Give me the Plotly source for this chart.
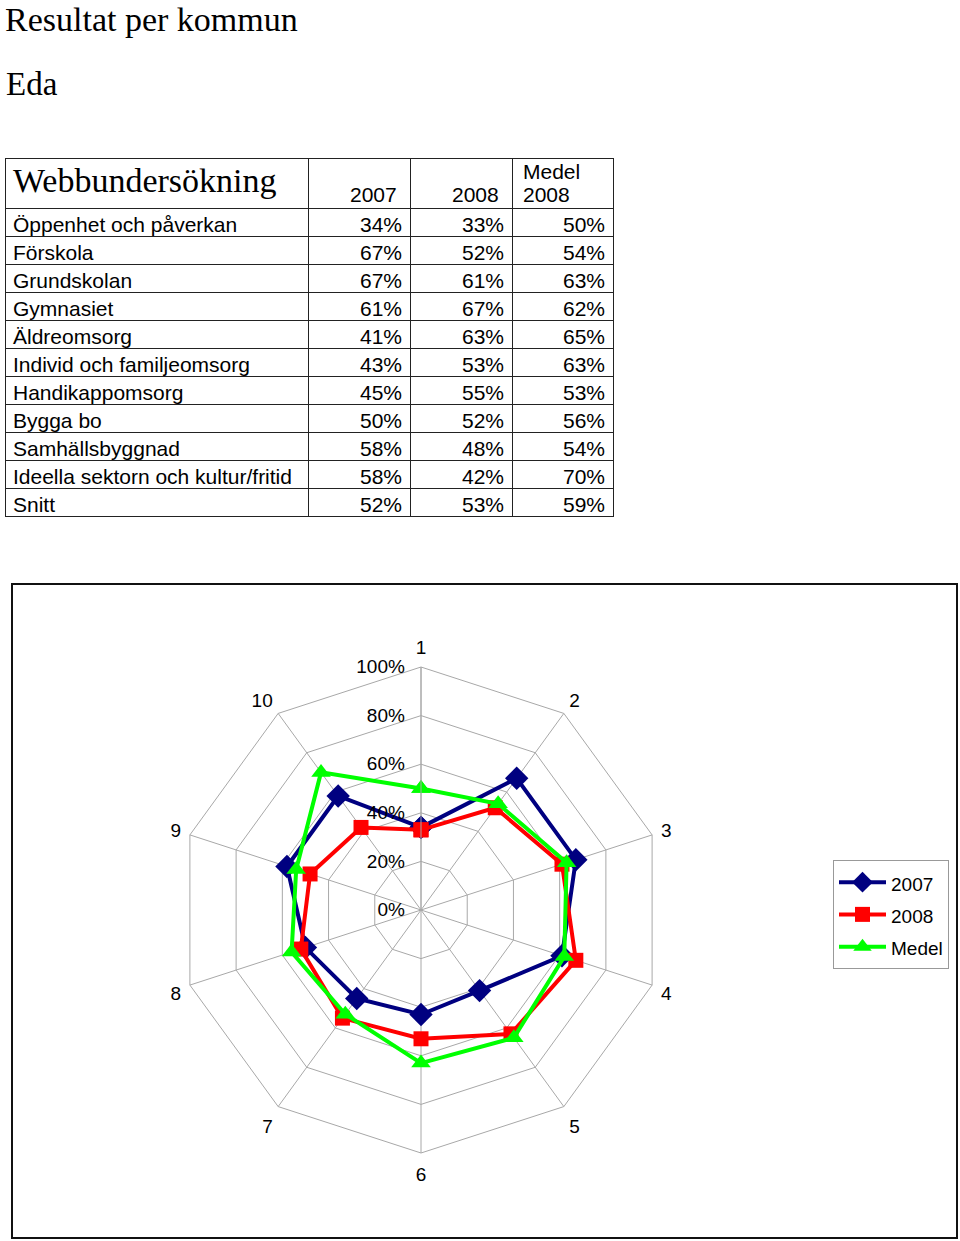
import plotly.graph_objects as go

# table data
areas = ['Öppenhet och påverkan', 'Förskola', 'Grundskolan', 'Gymnasiet',
         'Äldreomsorg', 'Individ och familjeomsorg', 'Handikappomsorg',
         'Bygga bo', 'Samhällsbyggnad', 'Ideella sektorn och kultur/fritid', 'Snitt']
v2007 = [34, 67, 67, 61, 41, 43, 45, 50, 58, 58, 52]
v2008 = [33, 52, 61, 67, 63, 53, 55, 52, 48, 42, 53]
medel = [50, 54, 63, 62, 65, 63, 53, 56, 54, 70, 59]
col_heads = ['2007', '2008', 'Medel', '2008']

spokes = [str(i) for i in range(1, 11)]
rticks = [0, 0.2, 0.4, 0.6, 0.8, 1.0]

W, H = 960, 1241

def px_x(x):
    return x / W

def px_y(y):
    return 1 - y / H

def pct(vals):
    return ['%d%%' % v for v in vals]

fig = go.Figure()

fig.add_trace(go.Table(
    domain=dict(x=[px_x(5), px_x(613)], y=[px_y(522), px_y(158)]),
    columnwidth=[303, 102, 102, 101],
    header=dict(
        values=['Webbundersökning', '', '', ''],
        align='left',
        height=50,
        line=dict(color='#222222', width=1),
        fill=dict(color='white'),
        font=dict(family='Liberation Serif', size=34, color='black'),
    ),
    cells=dict(
        values=[areas, pct(v2007), pct(v2008), pct(medel)],
        align=['left', 'right', 'right', 'right'],
        height=28,
        line=dict(color='#222222', width=1),
        fill=dict(color='white'),
        font=dict(family='Liberation Sans', size=21, color='black'),
    ),
))

series = [
    ('2007', v2007, '#000080', 'diamond', 18),
    ('2008', v2008, '#FF0000', 'square', 15),
    ('Medel', medel, '#00FF00', 'triangle-up', 17),
]
for name, vals, col, sym, sz in series:
    r = [v / 100 for v in vals[:10]]
    fig.add_trace(go.Scatterpolar(
        r=r + r[:1], theta=spokes + spokes[:1],
        mode='lines+markers',
        name='<span style="font-size:19px">%s</span>' % name,
        line=dict(color=col, width=4),
        marker=dict(symbol=sym, size=sz, color=col),
    ))

head_ann = [
    dict(text=col_heads[0], x=px_x(399), y=px_y(195), xanchor='right'),
    dict(text=col_heads[1], x=px_x(501), y=px_y(195), xanchor='right'),
    dict(text=col_heads[2], x=px_x(521), y=px_y(171), xanchor='left'),
    dict(text=col_heads[3], x=px_x(521), y=px_y(195), xanchor='left'),
]
for a in head_ann:
    a.update(xref='paper', yref='paper', yanchor='middle', showarrow=False,
             font=dict(family='Liberation Sans', size=21))

fig.update_layout(
    width=W, height=H,
    margin=dict(l=0, r=0, t=0, b=0),
    paper_bgcolor='white',
    font=dict(family='Liberation Sans', color='black', size=19),
    polar=dict(
        domain=dict(x=[px_x(178), px_x(664)], y=[px_y(1153), px_y(667)]),
        gridshape='linear',
        bgcolor='white',
        angularaxis=dict(
            type='category', categoryarray=spokes,
            direction='clockwise', rotation=90,
            showgrid=True, gridcolor='#A8A8A8', gridwidth=1,
            showline=True, linecolor='#A8A8A8', linewidth=1,
            ticks='outside', ticklen=5, tickcolor='rgba(0,0,0,0)',
            tickfont=dict(size=19),
        ),
        radialaxis=dict(
            range=[0, 1], tickvals=rticks, tickformat='.0%',
            angle=90, side='counterclockwise', tickangle=90,
            showgrid=True, gridcolor='#A8A8A8', gridwidth=1,
            showline=True, linecolor='#A8A8A8', linewidth=1,
            ticks='outside', ticklen=9, tickcolor='rgba(0,0,0,0)',
            tickfont=dict(size=19),
        ),
    ),
    legend=dict(
        x=px_x(833), y=px_y(860), xanchor='left', yanchor='top',
        bordercolor='#999999', borderwidth=1, bgcolor='white',
        font=dict(size=22.5), itemwidth=47, tracegroupgap=0,
    ),
    shapes=[dict(type='rect', xref='paper', yref='paper',
                 x0=px_x(12), x1=px_x(957), y0=px_y(1238), y1=px_y(584),
                 line=dict(color='#111111', width=2))],
    annotations=head_ann + [
        dict(text='Resultat per kommun', x=px_x(4), y=1, xref='paper', yref='paper',
             xanchor='left', yanchor='top', showarrow=False, borderpad=0,
             font=dict(family='Liberation Serif', size=34)),
        dict(text='Eda', x=px_x(4), y=px_y(84), xref='paper', yref='paper',
             xanchor='left', yanchor='middle', showarrow=False,
             font=dict(family='Liberation Serif', size=33)),
    ],
)

fig.write_html('out.html', config={'displayModeBar': False},
               post_script="document.body.style.margin='0px';")
